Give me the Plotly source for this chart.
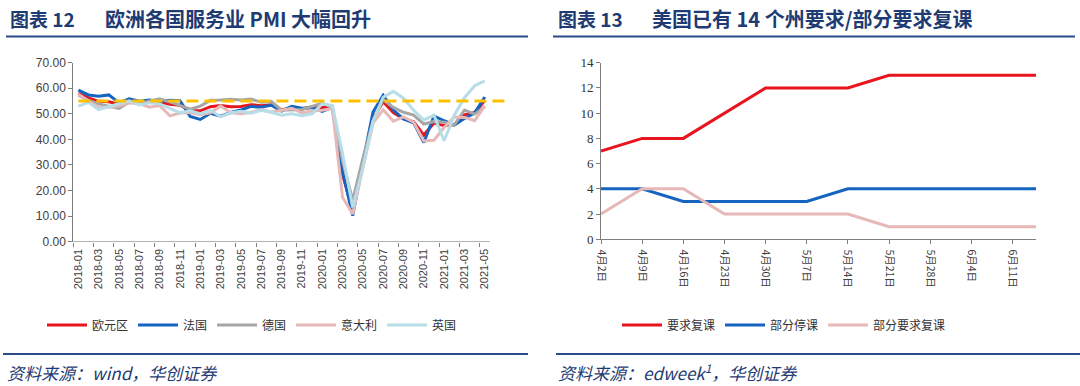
import plotly.graph_objects as go

# ---------------- Left chart data (services PMI) ----------------
months = [f"{y}-{m:02d}" for y in (2018, 2019, 2020, 2021) for m in range(1, 13)][:41]

eurozone = [58.0, 56.2, 54.9, 54.7, 53.8, 55.2, 54.2, 54.4, 54.7, 53.7, 53.4, 51.2,
            51.2, 52.8, 53.3, 52.8, 52.9, 53.6, 53.2, 53.5, 51.6, 52.2, 51.9, 52.8,
            52.5, 52.6, 26.4, 12.0, 30.5, 48.3, 54.7, 50.5, 48.0, 46.9, 41.7, 46.4,
            45.4, 45.7, 49.6, 50.5, 55.2]
france = [59.3, 57.4, 56.9, 57.4, 54.3, 55.9, 54.9, 55.4, 54.8, 55.3, 55.1, 49.0,
          47.8, 50.2, 49.1, 50.5, 51.5, 52.9, 52.6, 53.4, 51.1, 52.9, 52.2, 52.4,
          51.0, 52.5, 27.4, 10.2, 31.1, 50.7, 57.3, 51.5, 48.0, 46.5, 38.8, 49.1,
          47.3, 45.6, 48.2, 50.3, 56.6]
germany = [57.3, 55.3, 53.9, 53.0, 52.1, 54.5, 54.1, 55.0, 55.9, 54.7, 53.3, 51.8,
           53.0, 55.3, 55.4, 55.7, 55.4, 55.8, 54.5, 54.8, 51.4, 51.6, 51.7, 52.9,
           54.2, 52.5, 31.7, 16.2, 32.6, 47.3, 55.6, 52.5, 50.6, 49.5, 46.0, 47.0,
           46.7, 45.7, 51.5, 49.9, 52.8]
italy = [57.7, 54.9, 52.6, 52.6, 53.1, 54.3, 54.0, 52.6, 53.3, 49.2, 50.3, 50.5,
         49.7, 50.4, 53.1, 50.4, 50.0, 50.5, 51.7, 50.6, 51.4, 52.2, 50.4, 51.1,
         51.4, 52.1, 17.4, 10.8, 28.9, 46.4, 51.6, 47.1, 48.8, 46.7, 39.4, 39.7,
         44.7, 48.8, 48.6, 47.3, 53.1]
uk = [53.0, 54.5, 51.7, 52.8, 54.0, 55.1, 53.5, 54.3, 53.9, 52.2, 50.4, 51.2,
      50.1, 51.3, 48.9, 50.4, 51.0, 50.2, 51.4, 50.6, 49.5, 50.0, 49.3, 50.0,
      53.9, 53.2, 34.5, 13.4, 29.0, 47.1, 56.5, 58.8, 56.1, 51.4, 47.6, 49.4,
      39.5, 49.5, 56.3, 61.0, 62.9]
benchmark = 55

left_names = ["欧元区", "法国", "德国", "意大利", "英国"]
left_series = [eurozone, france, germany, italy, uk]
left_colors = ["#E8141E", "#1565C0", "#A6A6A6", "#E6B8B7", "#B7DEE8"]

# ---------------- Right chart data (US states) ----------------
dates = ["2020-04-02", "2020-04-09", "2020-04-16", "2020-04-23", "2020-04-30",
         "2020-05-07", "2020-05-14", "2020-05-21", "2020-05-28", "2020-06-04",
         "2020-06-11", "2020-06-15"]
date_labels = ["4月2日", "4月9日", "4月16日", "4月23日", "4月30日", "5月7日",
               "5月14日", "5月21日", "5月28日", "6月4日", "6月11日"]
require_reopen = [7, 8, 8, 10, 12, 12, 12, 13, 13, 13, 13, 13]
partial_closed = [4, 4, 3, 3, 3, 3, 4, 4, 4, 4, 4, 4]
partial_reopen = [2, 4, 4, 2, 2, 2, 2, 1, 1, 1, 1, 1]

right_names = ["要求复课", "部分停课", "部分要求复课"]
right_series = [require_reopen, partial_closed, partial_reopen]
right_colors = ["#E8141E", "#1565C0", "#E6B8B7"]

W, H = 1080, 386
def px_x(p):
    return p / W
def px_y(p):
    return (H - p) / H

CJK = "Noto Sans CJK SC"
NAVY = "#1F3B73"
AXIS = "#7F7F7F"

fig = go.Figure()
n = len(months)
idx = list(range(n))

for name, vals, col in zip(left_names, left_series, left_colors):
    fig.add_trace(go.Scatter(x=idx, y=vals, name=name, mode="lines",
                             line=dict(color=col, width=3), xaxis="x", yaxis="y",
                             legend="legend"))
fig.add_trace(go.Scatter(x=[0, n + 1.4], y=[benchmark, benchmark], mode="lines",
                         line=dict(color="#FFC000", width=3, dash="12px,6px"),
                         xaxis="x3", yaxis="y", showlegend=False, hoverinfo="skip"))

for name, vals, col in zip(right_names, right_series, right_colors):
    fig.add_trace(go.Scatter(x=dates, y=vals, name=name, mode="lines",
                             line=dict(color=col, width=3), xaxis="x2", yaxis="y2",
                             legend="legend2"))

x_left0 = 73.3
cat_w = 10.16
x_right_end = 505
r_end = -0.5 + (x_right_end - x_left0) / cat_w
dom_left = [px_x(x_left0), px_x(x_right_end)]
tick_font = dict(family="Liberation Sans, Arial", size=12, color="#404040")

fig.update_layout(
    width=W, height=H, autosize=False,
    margin=dict(l=0, r=0, t=0, b=0, pad=0, autoexpand=False),
    paper_bgcolor="white", plot_bgcolor="white",
    xaxis=dict(domain=dom_left, range=[-0.5, r_end], tickmode="array",
               tickvals=list(range(0, n, 2)), ticktext=months[::2],
               tickangle=-90, ticks="", showline=False, showgrid=False,
               zeroline=False, automargin=False, ticklabelstandoff=4,
               tickfont=dict(family="Liberation Sans, Arial", size=11, color="#404040"),
               anchor="y"),
    xaxis3=dict(overlaying="x", range=[-0.5, r_end], tickmode="array",
                tickvals=[i - 0.5 for i in range(0, n, 2)], ticks="outside",
                ticklen=4, tickcolor=AXIS, showticklabels=False, showline=False,
                showgrid=False, zeroline=False, automargin=False, anchor="y", side="bottom"),
    yaxis=dict(domain=[px_y(241.7), px_y(62.7)], range=[0, 70], dtick=10,
               tickformat=".2f", ticks="outside", ticklen=4, tickcolor=AXIS,
               showline=True, linecolor=AXIS, linewidth=1, showgrid=False,
               zeroline=False, automargin=False, tickfont=tick_font, anchor="x"),
    xaxis2=dict(domain=[px_x(601), px_x(1036)], type="date",
                range=["2020-04-02", "2020-06-15"], tickmode="array",
                tickvals=dates[:len(date_labels)], ticktext=date_labels,
                tickangle=90, ticks="outside", ticklen=4, tickcolor=AXIS,
                showline=True, linecolor=AXIS, linewidth=1, showgrid=False,
                zeroline=False, automargin=False, ticklabelstandoff=3,
                tickfont=dict(family=CJK, size=10.5, color="#404040"),
                anchor="y2"),
    yaxis2=dict(domain=[px_y(239.3), px_y(62.7)], range=[0, 14], dtick=2,
                ticks="outside", ticklen=4, tickcolor=AXIS, showline=True,
                linecolor=AXIS, linewidth=1, showgrid=False, zeroline=False,
                automargin=False,
                tickfont=dict(family="Liberation Serif, Times New Roman", size=13, color="#333333"),
                anchor="x2"),
    legend=dict(orientation="h", x=px_x(42), y=px_y(325), xanchor="left",
                yanchor="middle", font=dict(family=CJK, size=12, color="#333333"),
                bgcolor="rgba(0,0,0,0)", itemwidth=40),
    legend2=dict(orientation="h", x=px_x(617), y=px_y(325), xanchor="left",
                 yanchor="middle", font=dict(family=CJK, size=12, color="#333333"),
                 bgcolor="rgba(0,0,0,0)", itemwidth=40),
    showlegend=True,
)

# x-axis baseline for left chart (ends at the last category edge)
fig.add_shape(type="line", xref="x", yref="y", x0=-0.5, x1=n - 0.5, y0=0, y1=0,
              line=dict(color=AXIS, width=1))

# Titles: (prefix, prefix x, main text, main x, rule x0, rule x1)
titles = [("图表\u00a012", 8, "欧洲各国服务业 PMI 大幅回升", 103, 6, 528),
          ("图表\u00a013", 556, "美国已有 14 个州要求/部分要求复课", 650, 553, 1075)]
for pre, px0, main, mx0, lx0, lx1 in titles:
    for txt, tx, fs in ((pre, px0, 19), (main, mx0, 20)):
        fig.add_annotation(text=f"<b>{txt}</b>", xref="paper", yref="paper",
                           x=px_x(tx), y=px_y(19), xanchor="left", yanchor="middle",
                           showarrow=False, font=dict(family=CJK, size=fs, color=NAVY))
    fig.add_shape(type="line", xref="paper", yref="paper", x0=px_x(lx0), x1=px_x(lx1),
                  y0=px_y(36.5), y1=px_y(36.5), line=dict(color="#2B4C8C", width=2))

footers = [("资料来源：wind，华创证券", 5, 3, 528),
           ("资料来源：edweek<sup>1</sup>，华创证券", 556, 556, 1080)]
for text, tx, lx0, lx1 in footers:
    fig.add_shape(type="line", xref="paper", yref="paper", x0=px_x(lx0), x1=px_x(lx1),
                  y0=px_y(354), y1=px_y(354), line=dict(color="#2B4C8C", width=2))
    fig.add_annotation(text=f"<i>{text}</i>", xref="paper", yref="paper",
                       x=px_x(tx), y=px_y(372), xanchor="left", yanchor="middle",
                       showarrow=False, font=dict(family=CJK, size=17, color=NAVY))

fig.write_html("out.html", config={"displayModeBar": False},
               post_script="document.body.style.margin='0';document.body.style.overflow='hidden';")
